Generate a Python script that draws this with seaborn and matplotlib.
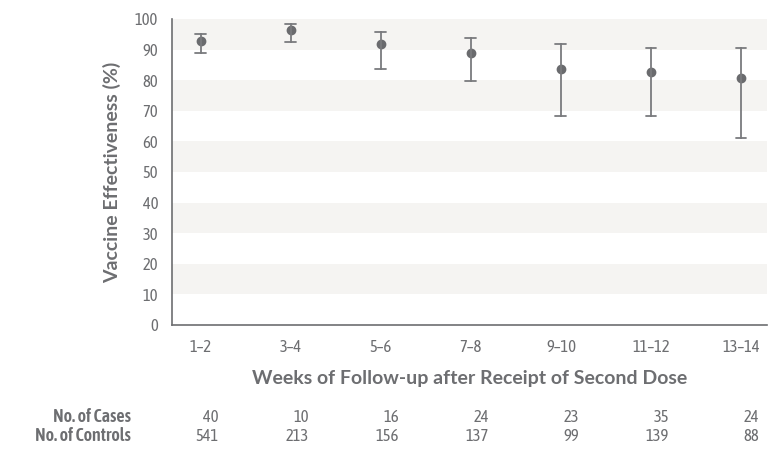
#!/usr/bin/env python3
"""Vaccine effectiveness by weeks after second dose, with 95% CI."""

import pandas as pd
import matplotlib.pyplot as plt
import seaborn as sns

# values
weeks = ['1–2', '3–4', '5–6', '7–8', '9–10', '11–12', '13–14']
effectiveness = [92.7, 96.4, 91.8, 88.8, 83.6, 82.8, 80.8]
ci_lower = [89.0, 92.6, 83.6, 79.8, 68.2, 68.4, 61.1]
ci_upper = [95.2, 98.4, 95.9, 93.8, 91.7, 90.5, 90.5]
n_cases = [40, 10, 16, 24, 23, 35, 24]
n_controls = [541, 213, 156, 137, 99, 139, 88]

TEXT = '#6d6e71'
MARK = '#6a6b6e'
BAND = '#f5f4f2'
NARROW = ['Asap Condensed', 'Roboto Condensed', 'DejaVu Sans']
LABEL = ['Lato', 'DejaVu Sans']

# long format: lower / estimate / upper per category, so that
# median gives the estimate and min/max gives the interval
rows = []
for w, lo, est, hi in zip(weeks, ci_lower, effectiveness, ci_upper):
    for v in (lo, est, hi):
        rows.append({'weeks': w, 've': v})
df = pd.DataFrame(rows)

sns.set_style('white')
plt.rcParams['font.family'] = NARROW

fig = plt.figure(figsize=(7.78, 4.49), dpi=100)
ax = fig.add_axes([0.2211, 0.2762, 0.7648, 0.6815])

# alternating grey bands
for lo in range(10, 100, 20):
    ax.axhspan(lo, lo + 10, color=BAND, lw=0, zorder=0)

sns.pointplot(data=df, x='weeks', y='ve', order=weeks, ax=ax,
              estimator='median', errorbar=lambda v: (v.min(), v.max()),
              color=MARK, linestyle='none', markersize=5, capsize=0.12,
              err_kws={'linewidth': 1.3, 'color': '#7a7b7e'})

ax.set_ylim(0, 100)
ax.set_xlim(-0.32, 6.29)
ax.set_yticks(range(0, 101, 10))

for side in ('top', 'right'):
    ax.spines[side].set_visible(False)
for side in ('left', 'bottom'):
    ax.spines[side].set_color('#6d6e71')
    ax.spines[side].set_linewidth(1.2)

ax.tick_params(axis='both', colors=TEXT, labelcolor=TEXT, labelsize=12,
               direction='out', width=1.1)
ax.tick_params(axis='y', length=8.5, pad=1.5)
ax.tick_params(axis='x', length=6, pad=4)
for lab in ax.get_xticklabels() + ax.get_yticklabels():
    lab.set_fontfamily(NARROW)

ax.set_ylabel('Vaccine Effectiveness (%)', fontsize=14, fontweight='bold',
              color=TEXT, family=LABEL, labelpad=10)
ax.set_xlabel('Weeks of Follow-up after Receipt of Second Dose', fontsize=14,
              fontweight='bold', color=TEXT, family=LABEL, labelpad=10)

# counts table under the axis
for i, (c, k) in enumerate(zip(n_cases, n_controls)):
    ax.annotate(str(c), (i + 0.2, 0), xycoords=('data', 'axes fraction'),
                xytext=(0, -(422 - 325) * 0.72), textcoords='offset points',
                ha='right', va='baseline', fontsize=12, color=TEXT)
    ax.annotate(str(k), (i + 0.2, 0), xycoords=('data', 'axes fraction'),
                xytext=(0, -(441 - 325) * 0.72), textcoords='offset points',
                ha='right', va='baseline', fontsize=12, color=TEXT)
fig.text(131 / 778, 1 - 422 / 449, 'No. of Cases', ha='right', va='baseline',
         fontsize=13, fontweight='semibold', color=TEXT, family=NARROW)
fig.text(131 / 778, 1 - 441 / 449, 'No. of Controls', ha='right', va='baseline',
         fontsize=13, fontweight='semibold', color=TEXT, family=NARROW)

fig.savefig('out.png', dpi=100)
